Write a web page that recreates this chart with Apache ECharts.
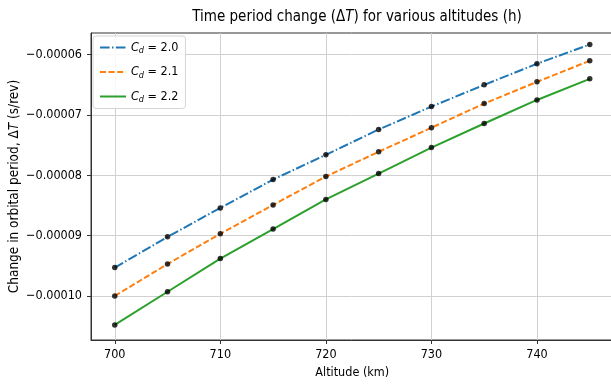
<!DOCTYPE html>
<html><head><meta charset="utf-8">
<script src="https://cdn.jsdelivr.net/npm/echarts@6/dist/echarts.min.js"></script>
<style>html,body{margin:0;padding:0;background:#fff}#c{width:611px;height:385px}</style>
</head><body><div id="c"></div>
<script>
const altitudes = [700, 705, 710, 715, 720, 725, 730, 735, 740, 745];
const cd20 = [-9.53e-5, -9.02e-5, -8.54e-5, -8.07e-5, -7.66e-5, -7.24e-5, -6.86e-5, -6.50e-5, -6.15e-5, -5.83e-5];
const cd21 = [-10.00e-5, -9.47e-5, -8.97e-5, -8.49e-5, -8.02e-5, -7.61e-5, -7.21e-5, -6.81e-5, -6.45e-5, -6.10e-5];
const cd22 = [-10.48e-5, -9.93e-5, -9.38e-5, -8.89e-5, -8.40e-5, -7.97e-5, -7.54e-5, -7.14e-5, -6.75e-5, -6.40e-5];
const xTicks = [700, 710, 720, 730, 740];
const yTicks = [-0.00010, -0.00009, -0.00008, -0.00007, -0.00006];
const seriesNames = ['Cd20', 'Cd21', 'Cd22'];
const seriesLabels = {Cd20: '2.0', Cd21: '2.1', Cd22: '2.2'};

const F = '"DejaVu Sans Condensed", "DejaVu Sans"';
const pair = arr => altitudes.map((a, i) => [a, arr[i]]);
const lineSeries = (name, data, color, type) => ({
  name, type: 'line', data: pair(data), symbol: 'none', z: 2,
  lineStyle: {color, width: 2, type}, itemStyle: {color}, animation: false
});
const dots = arr => ({
  type: 'scatter', data: pair(arr), symbolSize: 5.5, z: 5,
  itemStyle: {color: '#000'}, animation: false, silent: true
});

const chart = echarts.init(document.getElementById('c'), null, {renderer: 'canvas'});
chart.setOption({
  backgroundColor: '#fff',
  animation: false,
  textStyle: {fontFamily: F},
  title: {
    text: '{n|Time period change (Δ}{i|T}{n|) for various altitudes (h)}',
    left: 352, top: 5, textAlign: 'center',
    textStyle: {fontWeight: 'normal', rich: {
      n: {fontFamily: F, fontSize: 15, color: '#000', fontWeight: 'normal'},
      i: {fontFamily: F, fontSize: 15, color: '#000', fontStyle: 'italic', fontWeight: 'normal'}
    }}
  },
  grid: {left: 91, top: 33, width: 522.5, height: 307, show: true, borderColor: '#333', borderWidth: 1,
    containLabel: false, outerBoundsMode: 'none'},
  legend: {
    orient: 'vertical', left: 93, top: 36, data: seriesNames,
    itemWidth: 26, itemHeight: 12, itemGap: 10,
    itemStyle: {opacity: 0},
    backgroundColor: 'rgba(255,255,255,0.85)', borderColor: '#d5d5d5', borderWidth: 1, borderRadius: 3,
    padding: [5, 7, 4, 6],
    formatter: n => '{i|C}{s|d}{n| = ' + seriesLabels[n] + '}',
    textStyle: {rich: {
      i: {fontFamily: F, fontSize: 12.5, fontStyle: 'italic', color: '#000', lineHeight: 16, verticalAlign: 'middle'},
      s: {fontFamily: F, fontSize: 9, fontStyle: 'italic', color: '#000', lineHeight: 9, verticalAlign: 'bottom'},
      n: {fontFamily: F, fontSize: 12.5, color: '#000', lineHeight: 16, verticalAlign: 'middle'}
    }}
  },
  xAxis: {
    type: 'value', min: 697.75, max: 747.25,
    name: 'Altitude (km)', nameLocation: 'middle', nameGap: 26,
    nameTextStyle: {fontFamily: F, fontSize: 12.5, color: '#000'},
    axisLine: {show: true, onZero: false, lineStyle: {color: '#333'}},
    axisTick: {show: true, length: 4, lineStyle: {color: '#333'}, customValues: xTicks},
    axisLabel: {fontFamily: F, fontSize: 12.5, color: '#000', margin: 8, customValues: xTicks, formatter: v => String(v)},
    splitLine: {show: true, lineStyle: {color: '#d0d0d0', width: 1}}
  },
  yAxis: {
    type: 'value', min: -0.0001073, max: -0.0000564,
    name: '{n|Change in orbital period, Δ}{i|T}{n| (s/rev)}', nameLocation: 'middle', nameGap: 70,
    nameMoveOverlap: false,
    nameTextStyle: {fontFamily: F, fontSize: 13.5, color: '#000', rich: {
      n: {fontFamily: F, fontSize: 13.5, color: '#000'},
      i: {fontFamily: F, fontSize: 13.5, color: '#000', fontStyle: 'italic'}
    }},
    axisLine: {show: true, onZero: false, lineStyle: {color: '#333'}},
    axisTick: {show: true, length: 4, lineStyle: {color: '#333'}, customValues: yTicks},
    axisLabel: {fontFamily: F, fontSize: 12.5, color: '#000', margin: 9, customValues: yTicks,
      formatter: v => '−' + Math.abs(v).toFixed(5)},
    splitLine: {show: true, lineStyle: {color: '#d0d0d0', width: 1}}
  },
  series: [
    lineSeries('Cd20', cd20, '#1f77b4', [9.6, 2.4, 1.5, 2.4]),
    lineSeries('Cd21', cd21, '#ff7f0e', [6, 2.6]),
    lineSeries('Cd22', cd22, '#2ca02c', 'solid'),
    dots(cd20), dots(cd21), dots(cd22)
  ]
});
</script></body></html>
